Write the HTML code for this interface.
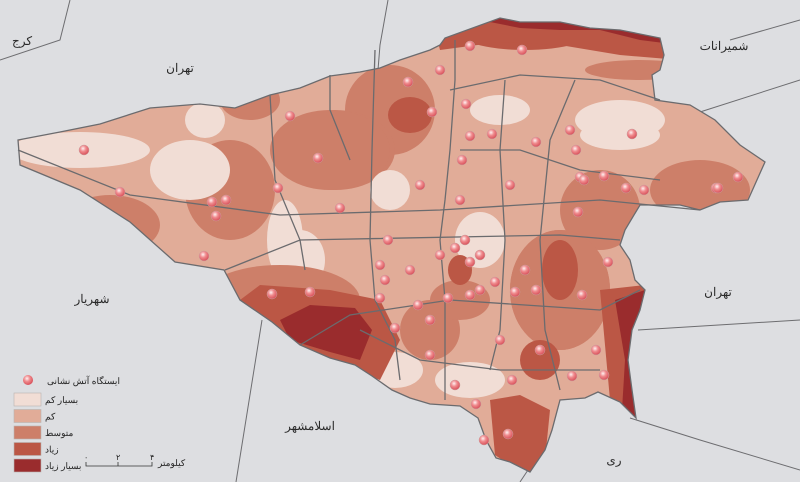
<!DOCTYPE html>
<html><head><meta charset="utf-8"><style>
body{margin:0;background:#dddee1;}
svg{display:block;}
text{font-family:"Liberation Sans","Noto Sans CJK SC",sans-serif;}
</style></head><body>
<svg id="map" width="800" height="482" viewBox="0 0 800 482">
<defs>
<clipPath id="city"><path id="cp" d=""/></clipPath>
<radialGradient id="dot" cx="40%" cy="35%" r="65%"><stop offset="0" stop-color="#fff2f2"/><stop offset="0.45" stop-color="#f08c8f"/><stop offset="1" stop-color="#d8505a"/></radialGradient>
</defs>
<rect width="800" height="482" fill="#dddee1"/>
<g stroke="#6d6d70" stroke-width="1" fill="none">
<path d="M70,0 L60,40 L0,60"/><path d="M388,0 L380,45 L378,70"/><path d="M730,40 L800,20"/><path d="M700,112 L800,80"/>
<path d="M638,330 L800,320"/><path d="M236,482 L262,320"/><path d="M630,418 L700,440 L800,470"/><path d="M520,482 L528,470"/>
</g>
<g id="regions" clip-path="url(#city)"></g>
<path id="outline" fill="none" stroke="#6b6b6e" stroke-width="1.3"/>
<g stroke="#6b6b6e" stroke-width="1.3" fill="none">
<path d="M270,95 L275,180 L300,240 L305,270"/><path d="M330,75 L330,110 L350,160"/><path d="M375,50 L372,150 L370,240 L375,300 L395,340 L400,380"/>
<path d="M455,40 L455,80 L450,150 L445,200 L440,240 L445,300 L445,400"/><path d="M505,80 L500,150 L505,240 L500,330 L490,370"/>
<path d="M575,80 L550,140 L540,240 L545,330 L560,390"/><path d="M18,150 L130,195 L280,215 L440,210 L600,200 L700,210"/>
<path d="M225,270 L300,240 L560,235 L620,240"/><path d="M300,345 L350,315 L450,300 L600,310 L640,290"/>
<path d="M360,330 L420,360 L500,370 L600,370"/><path d="M450,90 L520,75 L600,80 L660,100"/><path d="M460,150 L520,150 L580,170 L660,180"/>
</g>
<g id="stations"></g>
<g fill="#2a2a2a" font-size="12" text-anchor="middle">
<text x="22" y="45">کرج</text>
<text x="180" y="72">تهران</text>
<text x="724" y="50">شمیرانات</text>
<text x="718" y="296">تهران</text>
<text x="92" y="303">شهریار</text>
<text x="310" y="430">اسلامشهر</text>
<text x="614" y="464">ری</text>
</g>
<g id="legend" font-size="9" fill="#222">
<circle cx="28" cy="380" r="5" fill="url(#dot)"/>
<text x="47" y="384">ایستگاه آتش نشانی</text>
</g>
<g stroke="#333" fill="none" stroke-width="0.8">
<path d="M86,462 L86,466 L152,466 L152,462 M118,462 L118,466"/>
</g>
<g font-size="8" fill="#222">
<text x="84" y="460">۰</text><text x="116" y="460">۲</text><text x="150" y="460">۴</text><text x="158" y="466" font-size="9">کیلومتر</text>
</g>
</svg>
<script>
const levelNames=["بسیار کم","کم","متوسط","زیاد","بسیار زیاد"];
const levelColors=["#f1ddd5","#e1ac98","#cd7f69","#bb5745","#9a2c2d"];
// density blobs: [level, cx, cy, rx, ry]
const blobLevels=[2,2,2,2,2,2,2,2,0,0,0,0,0,0,0,0,0,0,0,2,2,2,2,2,3,3,3,3,4,3,4,2,2,0,3];
const blobCx=[230,110,390,335,250,600,430,560,80,190,300,390,480,500,620,395,470,205,285,330,560,700,280,420,410,525,560,540,320,620,625,640,460,620,460];
const blobCy=[190,225,110,150,100,210,330,290,150,170,260,190,240,110,120,370,380,120,240,150,290,190,300,440,115,30,270,360,330,330,350,70,300,135,270];
const blobRx=[45,50,45,60,30,40,30,50,70,40,25,20,25,30,45,28,35,20,18,60,50,50,80,60,22,70,18,20,48,10,8,55,30,40,12];
const blobRy=[50,30,45,40,20,40,30,60,18,30,30,20,28,15,20,18,18,18,40,40,60,30,35,30,18,20,30,20,25,40,60,10,20,15,15];
const stationX=[84,120,212,226,216,204,278,290,318,340,408,432,440,470,466,470,462,492,522,536,570,576,580,632,626,604,578,584,644,716,738,718,510,460,420,440,455,465,470,480,480,495,515,525,410,385,380,395,418,430,448,470,430,455,500,540,582,608,596,604,572,512,476,508,484,536,310,272,380,388];
const stationY=[150,192,202,200,216,256,188,116,158,208,82,112,70,46,104,136,160,134,50,142,130,150,177,134,188,176,212,180,190,188,177,188,185,200,185,255,248,240,262,255,290,282,292,270,270,280,298,328,305,320,298,295,355,385,340,350,295,262,350,375,376,380,404,434,440,290,292,294,265,240];
const blobs=document.getElementById('regions');
const outlineD="M18,140 L60,132 L100,124 L150,108 L200,104 L235,108 L270,95 L300,88 L330,76 L360,72 L380,68 L400,60 L430,50 L440,45 L445,38 L500,18 L520,22 L560,22 L590,28 L620,30 L660,38 L664,55 L660,70 L652,75 L655,100 L690,105 L715,120 L740,145 L765,162 L748,200 L720,202 L700,210 L680,205 L640,205 L625,230 L620,245 L630,260 L635,280 L645,290 L640,310 L632,330 L628,360 L632,390 L636,418 L620,402 L598,392 L585,398 L560,400 L552,430 L545,450 L530,472 L510,462 L496,458 L486,440 L478,418 L460,406 L430,404 L410,398 L392,390 L372,376 L355,365 L330,358 L300,345 L272,322 L240,300 L224,270 L175,262 L130,222 L80,190 L20,165 Z";
document.getElementById('cp').setAttribute('d',outlineD);
document.getElementById('outline').setAttribute('d',outlineD);
const ns="http://www.w3.org/2000/svg";
const base=document.createElementNS(ns,'rect');
base.setAttribute('width','800');base.setAttribute('height','482');base.setAttribute('fill',levelColors[1]);


blobs.appendChild(base);
const extras=[[3,"M430,10 L680,10 L680,60 L620,55 L560,45 L500,42 L440,50 Z"],[4,"M470,0 L680,0 L680,45 L640,40 L600,30 L560,30 L520,28 L490,22 Z"],[3,"M240,300 L260,285 L330,290 L380,300 L400,340 L380,380 L300,350 Z"],[4,"M280,320 L310,305 L355,308 L372,330 L360,360 L330,352 L290,340 Z"],[3,"M600,290 L645,285 L640,420 L610,400 Z"],[4,"M615,300 L645,290 L640,420 L622,410 L625,360 Z"],[3,"M490,400 L520,395 L550,410 L545,460 L525,475 L495,455 Z"]];
blobCx.forEach((cx,i)=>{
  const e=document.createElementNS(ns,'ellipse');
  e.setAttribute('cx',cx);e.setAttribute('cy',blobCy[i]);e.setAttribute('rx',blobRx[i]);e.setAttribute('ry',blobRy[i]);
  e.setAttribute('fill',levelColors[blobLevels[i]]);
  
  
  blobs.appendChild(e);
});
extras.forEach(x=>{
  const p=document.createElementNS(ns,'path');
  p.setAttribute('d',x[1]);p.setAttribute('fill',levelColors[x[0]]);
  
  
  blobs.appendChild(p);
});
const st=document.getElementById('stations');
stationX.forEach((x,i)=>{
  const c=document.createElementNS(ns,'circle');
  c.setAttribute('cx',x);c.setAttribute('cy',stationY[i]);c.setAttribute('r','5');
  c.setAttribute('fill','url(#dot)');c.setAttribute('stroke','#c9a0a0');c.setAttribute('stroke-width','0.5');
  
  
  st.appendChild(c);
});
const lg=document.getElementById('legend');
levelNames.forEach((n,i)=>{
  const y=393+i*16.5;
  const r=document.createElementNS(ns,'rect');
  r.setAttribute('x',14);r.setAttribute('y',y);r.setAttribute('width',27);r.setAttribute('height',13);
  r.setAttribute('fill',levelColors[i]);r.setAttribute('stroke','#b9b3b0');r.setAttribute('stroke-width','0.6');
  
  
  lg.appendChild(r);
  const t=document.createElementNS(ns,'text');
  t.setAttribute('x',45);t.setAttribute('y',y+10);t.textContent=n;
  
  
  lg.appendChild(t);
});
</script>
</body></html>
